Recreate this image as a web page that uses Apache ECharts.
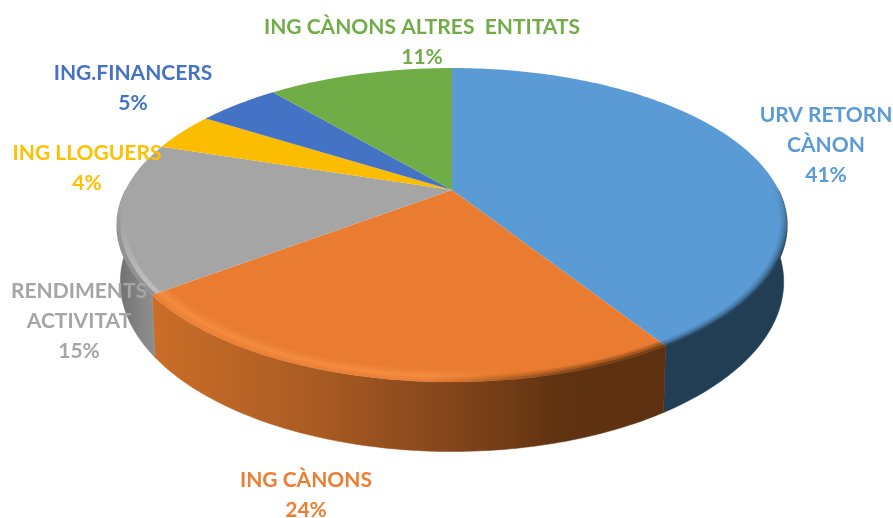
<!DOCTYPE html>
<html>
<head>
<meta charset="utf-8">
<style>html,body{margin:0;padding:0;background:#fff}#c{width:893px;height:518px}</style>
<script src="https://cdn.jsdelivr.net/npm/echarts@6/dist/echarts.min.js"></script>
</head>
<body>
<div id="c"></div>
<script>
// Data, clockwise from 12 o'clock
const categories = ['URV RETORN\nCÀNON', 'ING CÀNONS', 'RENDIMENTS\nACTIVITAT', 'ING LLOGUERS', 'ING.FINANCERS', 'ING CÀNONS ALTRES  ENTITATS'];
const values = [41.1, 23.5, 15.4, 4.0, 4.9, 11.1];
const colors = ['#5b9bd5', '#e97c30', '#a5a5a5', '#fcbc00', '#4472c4', '#70ad47'];
const labelColors = ['#5b9bd5', '#ed7d31', '#a5a5a5', '#ffc000', '#4472c4', '#70ad47'];
const labelCenters = [[826, 145], [306, 495], [79, 321], [87, 168], [133, 88], [422, 42]];

// Projection of the tilted disc
const cx = 452, cy = 190, a = 326.6, b = 149.2, k = 0.223, depth = 54;
const rad = d => d * Math.PI / 180;
function upper(deg, r) {
  const u = Math.sin(rad(deg)) * r, v = -Math.cos(rad(deg)) * r, w = 1 - k * v;
  return [cx + a * u / w, cy + b * v / w];
}
function lower(deg) {
  const v = -Math.cos(rad(deg)), w = 1 - k * v, p = upper(deg, 1);
  return [cx + (p[0] - cx) * 0.99, p[1] + depth / w];
}
function arc(d0, d1, fn) {
  const out = [], n = Math.max(2, Math.ceil(Math.abs(d1 - d0)));
  for (let i = 0; i <= n; i++) out.push(fn(d0 + (d1 - d0) * i / n));
  return out;
}
const band = (d0, d1, r0, r1) =>
  arc(d0, d1, t => upper(t, r1)).concat(arc(d1, d0, t => upper(t, r0)));

const grad = (x, y, x2, y2, stops) => ({
  type: 'linear', global: true, x, y, x2, y2,
  colorStops: stops.map(s => ({ offset: s[0], color: s[1] }))
});
const sideFill = [
  '#223e55',
  grad(160, 0, 665, 0, [[0, '#c96d28'], [0.3, '#ab5c23'], [0.58, '#83451b'], [0.8, '#5f3211'], [1, '#5c3010']]),
  grad(118, 0, 165, 0, [[0, '#6f6f6f'], [0.5, '#868686'], [1, '#959595']]),
  '#b88a00', '#2f5290', '#4f7b32'
];
function rims(i) {
  if (i === 0) return [[0.978, 0.984, .15], [0.984, 0.99, .35], [0.99, 0.995, .6], [0.995, 1.002, .9]]
    .map(l => ({ r0: l[0], r1: l[1], opacity: l[2],
      fill: grad(0, 180, 0, 262, [[0, 'rgba(34,62,85,0)'], [1, '#223e55']]) }));
  if (i === 1) return [
    ...[[0.975, 0.982, .25], [0.982, 0.99, .55], [0.99, 1.002, .9]].map(l => ({ r0: l[0], r1: l[1], opacity: l[2],
      fill: grad(420, 0, 600, 0, [[0, 'rgba(110,58,20,0)'], [1, '#6e3a14']]) })),
    ...[[0.95, 0.96, .12], [0.96, 0.97, .3], [0.97, 0.982, .5], [0.982, 0.992, .3], [0.992, 1.002, .12]].map(l => ({ r0: l[0], r1: l[1], opacity: l[2],
      fill: grad(160, 0, 500, 0, [[0, '#ff9c50'], [0.8, '#ff9c50'], [1, 'rgba(255,156,80,0)']]) }))
  ];
  if (i === 2) return [
    { r0: 0.975, r1: 0.99, opacity: .55, fill: grad(0, 225, 0, 280, [[0, 'rgba(205,205,205,0)'], [1, '#cdcdcd']]) },
    { r0: 0.99, r1: 1.002, opacity: .8, fill: grad(0, 205, 0, 260, [[0, 'rgba(120,120,120,0)'], [1, '#8d8d8d']]) }
  ];
  return [];
}

function renderItem(params, api) {
  const i = params.dataIndex;
  const total = values.reduce((s, x) => s + x, 0);
  const start = values.slice(0, i).reduce((s, x) => s + x, 0) / total * 360;
  const val = api.value(0);
  const end = start + val / total * 360;
  const children = [];

  const s0 = Math.max(start, 90), s1 = Math.min(end, 270);
  if (s1 > s0) {
    children.push({
      type: 'polygon', z2: 1,
      shape: { points: arc(s0, s1, t => upper(t, 1)).concat(arc(s1, s0, lower)) },
      style: { fill: sideFill[i], stroke: sideFill[i], lineWidth: 0.5 }
    });
  }
  children.push({
    type: 'polygon', z2: 10,
    shape: { points: [[cx, cy]].concat(arc(start, end, t => upper(t, 1))) },
    style: { fill: colors[i] }
  });
  rims(i).forEach((l, n) => {
    children.push({
      type: 'polygon', z2: 11 + n,
      shape: { points: band(Math.max(start, i === 0 ? 60 : start), end, l.r0, l.r1) },
      style: { fill: l.fill, opacity: l.opacity }
    });
  });
  children.push({
    type: 'text', z2: 30,
    style: {
      x: labelCenters[i][0], y: labelCenters[i][1],
      text: categories[i] + '\n' + Math.round(val) + '%',
      align: 'center', verticalAlign: 'middle',
      font: 'bold 21px Lato', lineHeight: 30, fill: labelColors[i]
    }
  });
  return { type: 'group', children };
}

const chart = echarts.init(document.getElementById('c'), null, { renderer: 'canvas' });
chart.setOption({
  animation: false,
  backgroundColor: '#fff',
  series: [{
    type: 'custom',
    coordinateSystem: 'none',
    data: values.map((v, i) => ({ name: categories[i], value: [v] })),
    renderItem
  }]
});
</script>
</body>
</html>
